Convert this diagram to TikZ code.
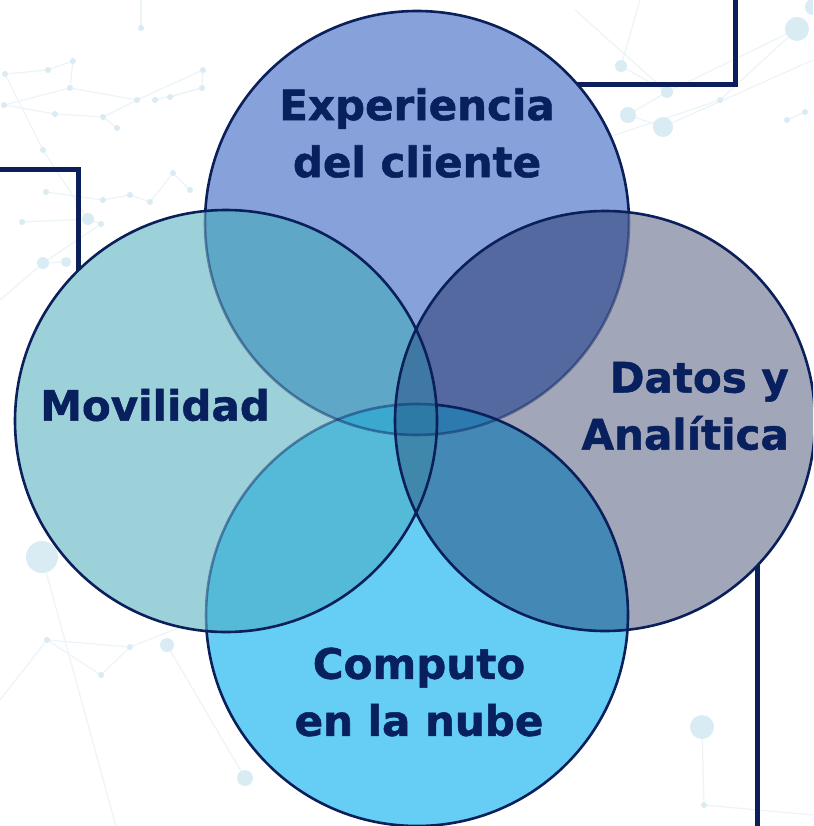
\documentclass[tikz,border=0pt]{standalone}
\usepackage{fontspec}
\setmainfont{DejaVu Sans}[BoldFeatures={FakeBold=1.2}]
\definecolor{navy}{HTML}{0B1F5A}
\definecolor{txt}{HTML}{08215E}
\definecolor{cT}{HTML}{87A2DA}
\definecolor{cL}{HTML}{9DD1DA}
\definecolor{cR}{HTML}{A2A6B9}
\definecolor{cB}{HTML}{66CDF4}
\definecolor{cTL}{HTML}{5EA7C7}
\definecolor{cTR}{HTML}{5469A0}
\definecolor{cLB}{HTML}{55BAD8}
\definecolor{cRB}{HTML}{4489B6}
\definecolor{cTLB}{HTML}{3AA8CF}
\definecolor{cTRB}{HTML}{2D7AB0}
\definecolor{cTLR}{HTML}{3F78A2}
\definecolor{cLRB}{HTML}{3F88AB}
\definecolor{cAll}{HTML}{2E7AA6}
\definecolor{bgdot}{HTML}{DAECF3}
\definecolor{bgline}{HTML}{EDF4F7}
\tikzset{
  conn/.style={draw=navy, line width=5pt},
  edge/.style={draw=navy, line width=2.6pt},
  softedge/.style={draw=navy, draw opacity=0.45, line width=2.6pt},
  lbl/.style={text=txt, font=\bfseries\fontsize{42}{57}\selectfont, inner sep=0pt},
  bgl/.style={draw=bgline, line width=1.2pt},
  bgd/.style={fill=bgdot},
}
\begin{document}
\begin{tikzpicture}[x=1pt,y=-1pt]
\useasboundingbox (0,0) rectangle (813,826);
\clip (0,0) rectangle (813,826);
\fill[white] (0,0) rectangle (813,826);

% faint network background
\foreach \a/\b/\c/\d in {141/28/141/-5, 73/61/48/70, 48/70/5/74, 73/61/70/88, 70/88/137/100, 137/100/203/70, 203/70/202/88, 202/88/155/100, 137/100/103/117, 103/117/55/114, 55/114/4/105, 4/105/70/88, 103/117/117/128, 170/97/202/88, 5/74/43/150, 43/150/88/219, 88/219/101/224, 101/224/43/263, 43/263/66/262, 22/222/88/219, 46/192/103/200, 103/200/130/195, 130/195/150/202, 150/202/173/173, 173/173/190/190, 0/300/43/263, 42/557/117/830, 47/640/101/675, 101/675/130/647, 47/640/130/647, 130/647/191/623, 47/640/0/700, 167/645/245/778, 191/623/240/600, 797/29/667/92, 667/92/621/66, 667/92/628/115, 628/115/663/127, 720/100/797/29, 663/127/813/60, 787/120/805/112, 575/10/667/92, 600/140/720/100, 702/727/704/805, 704/805/813/815, 640/0/621/66}
  {\draw[bgl] (\a,\b) -- (\c,\d);}
\foreach \a/\b in {141/28, 73/61, 48/70, 5/74, 70/88, 137/100, 103/117, 55/114, 4/105, 117/128, 203/70, 202/88, 155/100, 170/97, 43/150, 46/192, 103/200, 130/195, 150/202, 173/173, 190/190, 22/222, 101/224, 47/640, 101/675, 130/647, 191/623, 704/805, 720/100, 787/120, 805/112}
  {\fill[bgd] (\a,\b) circle (3);}
\foreach \a/\b/\r in {88/219/6, 43/263/6, 66/262/5, 797/29/12, 813/7/8, 621/66/6, 667/92/6, 628/115/8, 663/127/10, 42/557/16, 167/645/7, 245/778/8, 702/727/12}
  {\fill[bgd] (\a,\b) circle (\r);}

% connectors (behind circles)
\coordinate (tr1) at (560,85);
\coordinate (tr2) at (735,85);
\coordinate (tr3) at (735,-5);
\coordinate (lf1) at (-5,170);
\coordinate (lf2) at (78,170);
\coordinate (lf3) at (78,300);
\coordinate (rb1) at (757,540);
\coordinate (rb2) at (757,830);
\draw[conn] (tr1) -- (tr2) -- (tr3);
\draw[conn] (lf1) -- (lf2) -- (lf3);
\draw[conn] (rb1) -- (rb2);

% circles
\coordinate (oT) at (417,223);
\coordinate (oL) at (226,421);
\coordinate (oR) at (605,421);
\coordinate (oB) at (417,615);
\def\pT{(oT) circle (212)}
\def\pL{(oL) circle (211)}
\def\pR{(oR) circle (210)}
\def\pB{(oB) circle (211)}
\def\rev{(2000,2000) rectangle (-1000,-1000)}

\fill[cT] \pT;
\fill[cL] \pL;
\fill[cR] \pR;
\fill[cB] \pB;
\begin{scope}\clip \pT; \fill[cTL] \pL; \end{scope}
\begin{scope}\clip \pT; \fill[cTR] \pR; \end{scope}
\begin{scope}\clip \pL; \fill[cLB] \pB; \end{scope}
\begin{scope}\clip \pR; \fill[cRB] \pB; \end{scope}
\begin{scope}\clip \pT; \fill[cTLB] \pB; \end{scope}
\begin{scope}\clip \pL; \fill[cTLR] \pR; \end{scope}
\begin{scope}\clip \pT; \clip \pL; \fill[cTLB] \pB; \end{scope}
\begin{scope}\clip \pT; \clip \pR; \fill[cTRB] \pB; \end{scope}
\begin{scope}\clip \pT; \clip \pL; \fill[cTLR] \pR; \end{scope}
\begin{scope}\clip \pL; \clip \pR; \fill[cLRB] \pB; \end{scope}
\begin{scope}\clip \pT; \clip \pL; \clip \pR; \fill[cAll] \pB; \end{scope}

% outlines
\begin{scope}\clip \pL \pR \pB; \draw[softedge] \pT; \end{scope}
\begin{scope}\clip \pL \rev; \clip \pR \rev; \clip \pB \rev; \draw[edge] \pT; \end{scope}
\begin{scope}\clip \pL; \draw[softedge] \pB; \end{scope}
\begin{scope}\clip \pL \rev; \draw[edge] \pB; \end{scope}
\draw[edge] \pR;
\draw[edge] \pL;

% labels
\node[lbl, align=center] (tT) at (417,133) {Experiencia\\del cliente};
\node[lbl] (tL) at (155,405) {Movilidad};
\node[lbl, align=right, anchor=east] (tR) at (789,406) {Datos y\\Analítica};
\node[lbl, align=center] (tB) at (419,692) {Computo\\en la nube};
\end{tikzpicture}
\end{document}
